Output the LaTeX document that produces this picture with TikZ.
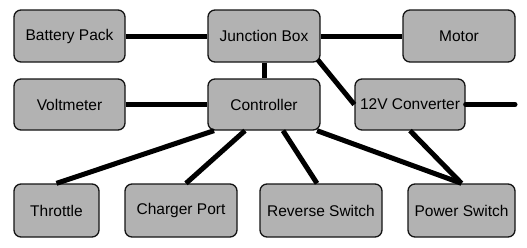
\documentclass[tikz,border=0pt]{standalone}
\usepackage{fontspec}
\setmainfont{Liberation Sans}
\usepackage{tikz}
\usetikzlibrary{positioning}
\definecolor{ink}{RGB}{20,20,20}
\definecolor{boxfill}{RGB}{178,178,178}
\def\RowA{36}
\def\RowB{104.5}
\def\RowC{210.5}
\tikzset{
  part/.style={
    draw=ink, fill=boxfill, line width=1.3pt, rounded corners=7pt,
    minimum height=#1, minimum width=112pt,
    align=center, font=\fontsize{15.5}{18}\selectfont, inner sep=0pt,
  },
  part/.default=52pt,
  wire/.style={line width=5pt, draw=black},
}
\begin{document}
\begin{tikzpicture}[x=1pt,y=-1pt]
  \useasboundingbox (0,0) rectangle (527,247);

  % top row
  \node[part, minimum width=111pt] (batt) at (69.5,\RowA) {Battery Pack};
  \node[part] (jbox) at (264,\RowA) {Junction Box};
  \node[part] (motor) at (459,\RowA) {Motor};

  % middle row
  \node[part=51pt, minimum width=111pt] (vmeter) at (69.5,\RowB) {Voltmeter};
  \node[part=51pt] (ctrl) at (264,\RowB) {Controller};
  \node[part=51pt, minimum width=110pt] (conv) at (410,\RowB) {12V Converter};
  \coordinate (convout) at (515,\RowB);

  % bottom row
  \node[part=53pt, minimum width=85pt] (throttle) at (56.5,\RowC) {Throttle};
  \node[part=53pt] (charger) at (181,\RowC) {Charger Port};
  \node[part=53pt, minimum width=122pt] (reverse) at (321,\RowC) {Reverse Switch};
  \node[part=53pt, minimum width=107pt] (power) at (461.5,\RowC) {Power Switch};

  \draw[wire] (batt) -- (jbox);
  \draw[wire] (jbox) -- (motor);
  \draw[wire] (jbox) -- (ctrl);
  \draw[wire] (vmeter) -- (ctrl);
  \draw[wire] ([shift={(-3,-3)}]jbox.south east) -- (conv.west);
  \draw[wire, line cap=round] (conv) -- (convout);
  \draw[wire] ([xshift=-50pt]ctrl.south) -- (throttle.north);
  \draw[wire] ([xshift=-19pt]ctrl.south) -- ([xshift=5pt]charger.north);
  \draw[wire] ([xshift=19pt]ctrl.south) -- ([xshift=-4pt]reverse.north);
  \draw[wire] ([xshift=53pt]ctrl.south) -- (power.north);
  \draw[wire] (conv.south) -- (power.north);
\end{tikzpicture}
\end{document}
